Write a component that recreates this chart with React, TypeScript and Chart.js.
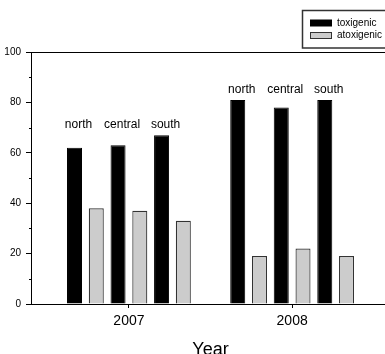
import React, { useEffect, useRef } from "react";
import { Chart, registerables } from "chart.js";

Chart.register(...registerables);

const years = [2007, 2008];
const regions = ["north", "central", "south"];
const seriesNames = ["toxigenic", "atoxigenic"];
const toxigenic = {
  north: [62, 81],
  central: [63, 78],
  south: [67, 81],
};
const atoxigenic = {
  north: [38, 19],
  central: [37, 22],
  south: [33, 19],
};
const yTicks = [0, 20, 40, 60, 80, 100];
const yMinorTicks = [10, 30, 50, 70, 90];
const xMin = 2006.4;
const xFullMax = 2008.6;
const xVisibleMax = 2008.569;

const FONT = "'Liberation Sans', Arial, sans-serif";
const TOX_COLOR = "#000000";
const ATOX_COLOR = "#cccccc";
const ATOX_BORDER = "#333333";

const extrasPlugin = {
  id: "extras",
  afterDraw(chart: any) {
    const ctx = chart.ctx;
    const area = chart.chartArea;
    const yScale = chart.scales.y;
    const xScale = chart.scales.x;
    ctx.save();
    // top frame line
    ctx.strokeStyle = "#000";
    ctx.lineWidth = 1;
    ctx.beginPath();
    ctx.moveTo(area.left, Math.round(area.top) + 0.5);
    ctx.lineTo(area.right + 20, Math.round(area.top) + 0.5);
    ctx.stroke();
    // minor y ticks
    yMinorTicks.forEach((v) => {
      const py = Math.round(yScale.getPixelForValue(v)) + 0.5;
      ctx.beginPath();
      ctx.moveTo(area.left - 2, py);
      ctx.lineTo(area.left, py);
      ctx.stroke();
    });
    // region labels above toxigenic bars
    ctx.font = `12px ${FONT}`;
    ctx.fillStyle = "#000";
    ctx.textAlign = "center";
    ctx.textBaseline = "middle";
    years.forEach((_, yi) => {
      let topMost = Infinity;
      regions.forEach((_, ri) => {
        const bar = chart.getDatasetMeta(ri * 2).data[yi];
        topMost = Math.min(topMost, bar.y);
      });
      regions.forEach((r, ri) => {
        const bar = chart.getDatasetMeta(ri * 2).data[yi];
        ctx.fillText(r, bar.x + 4, topMost - 10);
      });
    });
    // legend (box continues past the canvas edge)
    ctx.strokeStyle = "#333";
    ctx.lineWidth = 1.5;
    ctx.beginPath();
    ctx.moveTo(chart.width + 10, 10.5);
    ctx.lineTo(302.5, 10.5);
    ctx.lineTo(302.5, 48);
    ctx.lineTo(chart.width + 10, 48);
    ctx.stroke();
    ctx.lineWidth = 1;
    ctx.fillStyle = TOX_COLOR;
    ctx.fillRect(310, 19.5, 22, 7);
    ctx.fillStyle = ATOX_COLOR;
    ctx.fillRect(310, 32, 22, 7);
    ctx.strokeStyle = ATOX_BORDER;
    ctx.strokeRect(310.5, 32.5, 21, 6);
    ctx.fillStyle = "#000";
    ctx.font = `10px ${FONT}`;
    ctx.textAlign = "left";
    ctx.fillText(seriesNames[0], 337, 23);
    ctx.fillText(seriesNames[1], 337, 35.5);
    // x title
    ctx.font = `18px ${FONT}`;
    ctx.textAlign = "center";
    ctx.textBaseline = "alphabetic";
    const cx = (xScale.getPixelForValue(xMin) + xScale.getPixelForValue(xFullMax)) / 2;
    ctx.fillText("Year", cx, 354.5);
    ctx.restore();
  },
};

export default function App() {
  const ref = useRef<HTMLCanvasElement>(null);
  useEffect(() => {
    if (!ref.current) return;
    const datasets: any[] = [];
    regions.forEach((r) => {
      datasets.push({
        label: `${r} ${seriesNames[0]}`,
        data: years.map((yr, i) => ({ x: yr, y: (toxigenic as any)[r][i] })),
        backgroundColor: TOX_COLOR,
        borderColor: TOX_COLOR,
        borderWidth: 1,
      });
      datasets.push({
        label: `${r} ${seriesNames[1]}`,
        data: years.map((yr, i) => ({ x: yr, y: (atoxigenic as any)[r][i] })),
        backgroundColor: ATOX_COLOR,
        borderColor: ATOX_BORDER,
        borderWidth: 1.2,
      });
    });
    const chart = new Chart(ref.current, {
      type: "bar",
      data: { datasets },
      plugins: [extrasPlugin],
      options: {
        animation: false,
        responsive: false,
        maintainAspectRatio: false,
        layout: { padding: { top: 52, right: 0, left: 0, bottom: 0 } },
        plugins: { legend: { display: false }, tooltip: { enabled: false } },
        datasets: { bar: { categoryPercentage: 0.8, barPercentage: 0.69 } },
        scales: {
          x: {
            type: "linear",
            min: xMin,
            max: xVisibleMax,
            offset: false,
            afterBuildTicks: (s: any) => {
              s.ticks = years.map((v) => ({ value: v }));
            },
            afterFit: (s: any) => {
              s.height = 50;
            },
            grid: {
              display: true,
              drawOnChartArea: false,
              offset: false,
              tickLength: 4,
              tickColor: "#000",
            },
            border: { color: "#000", width: 1 },
            ticks: {
              color: "#000",
              padding: 5,
              font: { family: FONT, size: 14 },
              callback: (v: any) => String(v),
              maxRotation: 0,
            },
          },
          y: {
            min: 0,
            max: 100,
            afterBuildTicks: (s: any) => {
              s.ticks = yTicks.map((v) => ({ value: v }));
            },
            afterFit: (s: any) => {
              s.width = 31;
            },
            grid: {
              display: true,
              drawOnChartArea: false,
              tickLength: 5,
              tickColor: "#000",
            },
            border: { color: "#000", width: 1 },
            ticks: {
              color: "#000",
              padding: 5,
              font: { family: FONT, size: 10 },
            },
          },
        },
      } as any,
    });
    return () => chart.destroy();
  }, []);
  return (
    <div
      style={{
        position: "fixed",
        left: 0,
        top: 0,
        width: 385,
        height: 354,
        overflow: "hidden",
        background: "#fff",
      }}
    >
      <canvas ref={ref} width={385} height={354} style={{ width: 385, height: 354, display: "block" }} />
    </div>
  );
}
